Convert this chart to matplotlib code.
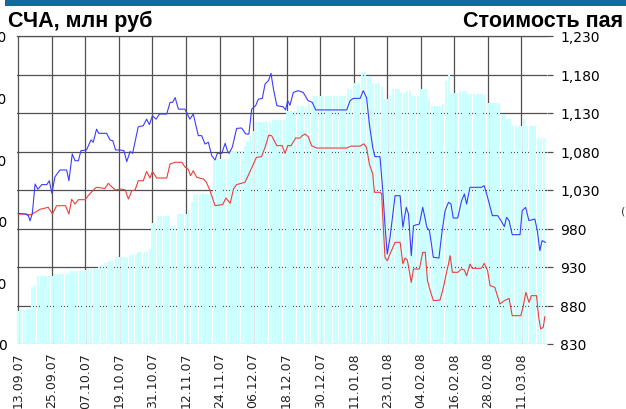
import matplotlib
matplotlib.use("Agg")
import matplotlib.pyplot as plt
from matplotlib.patches import Rectangle
from matplotlib.ticker import FuncFormatter

# ---- data (x = days since 13.09.07) ----
tick_days = [0, 12, 24, 36, 48, 60, 72, 84, 96, 108, 120, 132, 144, 156, 168, 180]
tick_labels = ["13.09.07", "25.09.07", "07.10.07", "19.10.07", "31.10.07", "12.11.07",
               "24.11.07", "06.12.07", "18.12.07", "30.12.07", "11.01.08", "23.01.08",
               "04.02.08", "16.02.08", "28.02.08", "11.03.08"]

# daily net asset value bars (left axis, mln rub) for days 0..188
nav_bars = [
    54, 57, 57, 57, 57, 92, 95, 111, 111, 111, 111, 111, 111, 113, 113, 113, 113, 113, 113, 118,
    118, 118, 118, 118, 120, 121, 121, 121, 121, 127, 128, 132, 133, 134, 135, 141, 142, 142, 142, 142,
    144, 145, 146, 149, 149, 150, 150, 154, 196, 196, 208, 208, 208, 208, 208, 192, 192, 211, 211, 211,
    211, 217, 230, 243, 243, 243, 243, 243, 243, 243, 298, 300, 300, 300, 300, 300, 311, 311, 311, 311,
    311, 322, 330, 338, 345, 361, 361, 361, 361, 361, 361, 364, 364, 364, 364, 364, 378, 378, 378, 378,
    387, 387, 387, 387, 392, 392, 403, 403, 403, 403, 403, 403, 403, 403, 403, 403, 403, 403, 414, 414,
    423, 423, 423, 441, 441, 433, 433, 423, 423, 423, 418, 397, 397, 405, 414, 414, 414, 408, 408, 411,
    411, 403, 403, 403, 414, 414, 414, 398, 387, 387, 387, 387, 390, 427, 438, 408, 408, 408, 411, 411,
    411, 406, 406, 406, 406, 406, 406, 406, 392, 392, 392, 392, 392, 373, 373, 365, 365, 354, 354, 354,
    354, 365, 354, 354, 354, 354, 335, 335, 335,
]

blue_days = [0, 2.4, 3.6, 4.2, 5, 6, 7, 8.4, 10.2, 11.1, 12, 13.1, 14.9, 17.3, 18.1, 19.3, 20.3, 21.5,
             22.4, 24.4, 26, 26.8, 28, 28.8, 31.6, 32.8, 33.8, 34.8,
             36.4, 37.8, 38.8, 40, 40.9, 42.9, 44.7, 45.9, 46.9, 48, 49.3, 50.5, 53.1, 54.3, 55.2, 56.1,
             57.3, 59.6, 60.8, 61.4, 62.6, 64.4, 65.6, 66.8, 68, 69.2, 70.4, 71.2, 72.8, 74, 74.8,
             75.4, 76.6, 78.1, 79.9, 81.4, 82.5, 83.5, 84.9, 85.9, 87.3, 88.3, 89.5, 90.4, 91.3, 92.5,
             94.8, 95.6, 96.4, 97.2, 98.4, 100.2, 101.9, 103.7, 105.2, 106.4,
             117.5, 118.7, 119.9, 122.3, 123.4, 124.6, 125.6, 126.8, 127.6, 129.4, 130.4, 131.2, 132,
             133, 134.8, 136.6, 137.6, 138.8, 139.6, 140.6, 141.4, 143.5, 144.7, 146.2, 147.1, 148.5,
             150.5, 151.5, 152.7, 153.9, 154.8, 155.6, 157.2, 158.6, 159.6, 160.4, 161.6, 165.7, 166.7,
             167.9, 169.6, 171.5, 172.7, 173.9, 174.7, 175.6, 176.7, 179.5, 180.3, 181.5, 182.7, 184.8,
             185.7, 186.6, 187.4, 188.6]
blue_vals = [999.7, 998.8, 996.7, 990, 999, 1037.8, 1031, 1037, 1037, 1042, 1025.7, 1047, 1056, 1056,
             1042, 1076.8, 1068, 1068, 1081, 1082, 1095, 1092, 1109, 1103.6, 1103.6, 1095, 1094, 1082,
             1082, 1081, 1066.8, 1080, 1077.6, 1112, 1113.5, 1122, 1115, 1126.5, 1122, 1128.7, 1128.7,
             1143.8, 1143.8, 1150, 1135, 1135, 1126.5, 1122, 1128.7, 1100.6, 1100.6, 1089.7, 1092,
             1074.6, 1069, 1077.6, 1077.6, 1090.6, 1081,
             1077.6, 1086, 1110, 1110.5, 1102.7, 1102.7, 1135, 1139.5, 1148, 1149, 1167.7, 1172,
             1181.5, 1161, 1139.5, 1138, 1134, 1146, 1140, 1156.8, 1159, 1156.8, 1146, 1143.8, 1134,
             1134, 1146, 1149, 1149, 1159, 1150, 1115.7, 1085.4, 1073.3, 1073.3, 1029, 983.7, 946.9,
             968.5, 1022.6, 1022.6, 981.5, 1007.5, 998.8, 944.7, 983.7, 985.8, 1007.5, 981.5, 977.2,
             942.6,
             941.7, 972.9, 1003.2, 1014, 1011.8, 993.6, 993.6, 1016.1, 1024.8, 1011.8, 1033.5, 1033.5,
             1035.6, 1020.5, 996.7, 996.7, 990.2, 982.4, 994.5, 990.2, 972, 972, 1003.2, 1007.5,
             990.2, 992.3, 977.2, 951.2, 964.2, 962]

red_days = [0, 3, 4.2, 6, 7.8, 10.7, 12.2, 13.7, 16.9, 18.1, 19.1, 20.3, 21.5, 23.9, 25, 27.2, 28, 31,
            32.2, 33.6, 34.8,
            36.4, 38.2, 39.4, 40.6, 41.8, 42.9, 44.7, 45.9, 47.1, 48, 49.5, 53.1, 54.3, 56.1, 58.5,
            59.6, 60.8, 61.6, 62.6, 63.8, 66.2, 67.3, 68.5, 70.4, 73.1, 74.3,
            75.8, 77, 78.1, 81.1, 82.5, 85.2, 87, 88.3, 89.6, 90.6, 92.5, 94.4, 95.4, 96.4, 97.6,
            99.2, 100.8, 101.6, 102.6, 103.7, 104.9, 106.7,
            117.5, 119, 122.3, 123.6, 124.6, 125.6, 126.8, 127.4, 129.4, 130, 130.6, 131.2, 132, 133,
            134.8, 136.6, 137.6, 138.4, 139.2, 140.6, 141.4, 143.5, 144.7, 145.6, 146.4, 147.4, 148.5,
            150.9, 152.1, 153.1, 153.9, 154.5, 155.3, 157.2, 158.6, 159.6, 160.4, 161.6, 162.4, 165.7,
            166.7, 167.9, 168.8, 170.5, 172.3, 173.9, 175.6, 176.7, 179.8, 180.7, 181.6, 182.7, 183.6,
            185.4, 186.2, 186.9, 187.8, 188.4]
red_vals = [998.8, 998.8, 997.5, 1001, 1005, 1007.5, 998.8, 1009.6, 1009.6, 998.8, 1018, 1011.8,
            1017.4, 1017.4, 1022.6, 1031.3, 1033.5, 1032, 1038.7, 1033.5, 1030,
            1031.3, 1030.4, 1018.3, 1029, 1030, 1042, 1042, 1054, 1045.6, 1054, 1045.6, 1045.6,
            1063.8, 1066, 1066, 1060, 1057, 1048.6, 1055, 1046.5, 1044.3, 1040, 1030, 1009.6, 1011,
            1019.6,
            1012.7, 1031.3, 1037, 1040, 1050.8, 1072.4, 1073.3, 1085.4, 1101.4, 1100.6, 1087.6,
            1087.6, 1077.6, 1087.6, 1087.6, 1097.5, 1097.5, 1100.6, 1102.7, 1099.3, 1087.6, 1084.5,
            1084.5, 1087, 1087, 1090, 1085, 1063.8, 1050.8, 1027, 1027, 1025, 981.5, 942.6, 938.2,
            947, 962, 962, 934, 941.7, 939, 910, 927.4, 927.4, 949, 949, 912.2, 899, 886.3,
            887.1, 903.6, 920.9, 933.9, 944.7, 923.1, 923.1, 927.4, 926.1, 918.7, 933.9, 928.3,
            928.3, 934.8, 925.2, 905.8, 903.6, 882, 886.3, 889.3, 866.8, 866.8, 879.8, 897.1,
            884.1, 892.8, 892.8, 864.6, 849.5, 851.6, 865.5]

left_ticks = [0, 100, 200, 300, 400, 500]
right_ticks = [830, 880, 930, 980, 1030, 1080, 1130, 1180, 1230]

# ---- figure ----
W, H = 626, 410
fig = plt.figure(figsize=(W / 100, H / 100), dpi=100)
fig.patch.set_facecolor("white")

# top band
fig.patches.append(Rectangle((5 / W, 1 - 7 / H), 1, 7 / H, transform=fig.transFigure,
                             facecolor="#156a99", edgecolor="none"))

rect = [17.3 / W, (H - 345) / H, (546.7 - 17.3) / W, (345 - 37) / H]
xlim = (-0.36, 189.05)
grid_c = "#505050"

# grid axis (bottom)
axg = fig.add_axes(rect, zorder=0)
axg.set_xlim(*xlim)
axg.set_ylim(830, 1230)
axg.set_xticks(tick_days)
axg.set_yticks(right_ticks)
axg.tick_params(length=0, labelbottom=False, labelleft=False)
axg.grid(True, color=grid_c, lw=0.9)
for s in axg.spines.values():
    s.set_visible(False)

# bars axis (middle, left scale)
axb = fig.add_axes(rect, zorder=1)
axb.patch.set_visible(False)
axb.bar(range(len(nav_bars)), nav_bars, width=0.78, color="#ccffff", linewidth=0)
axb.set_xlim(*xlim)
axb.set_ylim(0, 500)
axb.set_yticks(left_ticks)
axb.set_yticklabels([str(v) for v in left_ticks])
axb.tick_params(axis="y", length=0, pad=7.5, labelsize=10)
axb.set_xticks(tick_days)
axb.set_xticklabels(tick_labels, rotation=90, fontsize=9, color="#222222")
axb.tick_params(axis="x", length=0, pad=5.5)
for s in axb.spines.values():
    s.set_visible(False)

# lines axis (top, right scale)
axl = fig.add_axes(rect, zorder=2)
axl.patch.set_visible(False)
axl.plot(red_days, red_vals, color="#f03c3c", lw=0.8)
axl.plot(blue_days, blue_vals, color="#3c3cff", lw=0.8)
axl.set_xlim(*xlim)
axl.set_ylim(830, 1230)
axl.set_xticks([])
axl.yaxis.tick_right()
axl.set_yticks(right_ticks)
axl.yaxis.set_major_formatter(FuncFormatter(lambda v, p: f"{int(v):,}"))
axl.tick_params(axis="y", length=4.3, width=0.9, color="#505050", pad=5.5, labelsize=10)
for k, s in axl.spines.items():
    s.set_visible(k == "top")
    s.set_color(grid_c)
    s.set_linewidth(0.9)

# titles
fig.text(8 / W, 1 - 27 / H, "СЧА, млн руб", fontsize=15.5, fontweight="bold",
         family="Liberation Sans", ha="left", va="baseline")
fig.text(463 / W, 1 - 27 / H, "Стоимость пая", fontsize=15.5, fontweight="bold",
         family="Liberation Sans", ha="left", va="baseline")
fig.text(621 / W, 1 - 212 / H, "(", fontsize=8, color="#333333", ha="left", va="center")

fig.savefig("out.png", dpi=100)
